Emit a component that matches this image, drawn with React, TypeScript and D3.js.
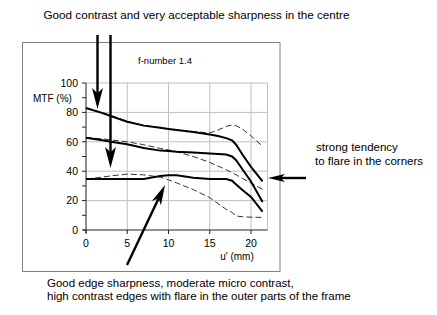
import React from "react";
import * as d3 from "d3";

// u' (mm) sample positions
const xs = [0, 2, 3, 5, 7, 9, 10, 11, 13, 15, 16, 17, 17.7, 18.2, 19, 20, 21.4];
// Solid curves (sagittal)
const solidHigh = [83, 79.5, 77.5, 73.6, 71, 69.5, 68.7, 68, 66.7, 65, 64, 62.5, 61, 58, 51, 43, 33];
const solidMid = [62.8, 61, 60, 58.3, 55.8, 54, 53.8, 53.3, 52.7, 52, 51.7, 51.3, 50, 47.5, 41, 33, 19];
const solidLow = [34.7, 34.7, 34.7, 34.7, 34.7, 36.8, 37.2, 37.2, 35.5, 34.7, 34.7, 34.7, 33.5, 31, 27, 22.5, 12.5];
// Dashed curves (tangential)
const dashHigh = [83, 80, 78, 74, 71.2, 69.6, 68.8, 68.2, 67, 66, 68, 70.5, 71.4, 71, 68.5, 64, 57];
const dashMid = [62.8, 62, 61.3, 60, 58, 55.5, 54.5, 53.2, 50, 46, 43.5, 41, 39, 37.5, 35, 32, 27.7];
const dashLow = [34.7, 36, 36.8, 38, 37.5, 36, 34.2, 32, 27.5, 22, 18, 14, 12, 9.5, 9, 8.7, 8.6];

const xTicks = [0, 5, 10, 15, 20];
const yTicks = [0, 20, 40, 60, 80, 100];
const yMinor = [10, 30, 50, 70, 90];

const titleTop = "Good contrast and very acceptable sharpness in the centre";
const chartTitle = "f-number 1.4";
const yLabel = "MTF (%)";
const xLabel = "u' (mm)";
const rightNote = ["strong tendency", "to flare in the corners"];
const bottomNote = [
  "Good edge sharpness, moderate micro contrast,",
  "high contrast edges with flare in the outer parts of the frame",
];

const font = "'Liberation Sans', Arial, sans-serif";

function Arrow({ x1, y1, x2, y2, headLen = 21, headW = 5.5, sw = 2.4 }: any) {
  const dx = x2 - x1, dy = y2 - y1;
  const L = Math.hypot(dx, dy);
  const ux = dx / L, uy = dy / L;
  const px = -uy, py = ux;
  const bx = x2 - ux * headLen, by = y2 - uy * headLen;
  const nx = x2 - ux * headLen * 0.75, ny = y2 - uy * headLen * 0.75;
  const pts = [
    [x2, y2],
    [bx + px * headW, by + py * headW],
    [nx, ny],
    [bx - px * headW, by - py * headW],
  ];
  return (
    <g>
      <line x1={x1} y1={y1} x2={nx} y2={ny} stroke="#000" strokeWidth={sw} />
      <polygon points={pts.map((p) => p.join(",")).join(" ")} fill="#000" />
    </g>
  );
}

export default function App() {
  const x = d3.scaleLinear().domain([0, 22]).range([86, 267.5]);
  const y = d3.scaleLinear().domain([0, 100]).range([230, 83]);
  const line = (vals: number[]) =>
    d3.line<number>().x((_, i) => x(xs[i])).y((v) => y(v))(vals) || "";

  return (
    <svg width={437} height={315} style={{ position: "absolute", left: 0, top: 0, background: "#fff" }} fontFamily={font}>
      <rect x={0} y={0} width={437} height={315} fill="#fff" />
      <text x={43.5} y={18.5} fontSize={11.7} fill="#000">{titleTop}</text>
      {/* frame */}
      <rect x={22.5} y={42.5} width={257.5} height={229} fill="none" stroke="#808080" strokeWidth={1} />
      <text x={165} y={63.5} fontSize={9.5} textAnchor="middle">{chartTitle}</text>
      {/* grid */}
      {[5, 10, 15, 20, 22].map((t) => (
        <line key={"gx" + t} x1={x(t)} x2={x(t)} y1={y(0)} y2={y(100)} stroke="#c0c0c0" strokeWidth={1} />
      ))}
      {[20, 40, 60, 80, 100].map((t) => (
        <line key={"gy" + t} x1={x(0)} x2={x(22)} y1={y(t)} y2={y(t)} stroke="#c0c0c0" strokeWidth={1} />
      ))}
      {/* axes */}
      <line x1={x(0)} x2={x(0)} y1={y(0) + 3} y2={y(100)} stroke="#222" strokeWidth={1} />
      <line x1={x(0) - 3} x2={x(22)} y1={y(0)} y2={y(0)} stroke="#222" strokeWidth={1} />
      {yTicks.map((t) => (
        <g key={"yt" + t}>
          <line x1={x(0) - 4} x2={x(0)} y1={y(t)} y2={y(t)} stroke="#222" />
          <text x={78} y={y(t) + 3.7} fontSize={10.5} textAnchor="end">{t}</text>
        </g>
      ))}
      {yMinor.map((t) => (
        <line key={"ym" + t} x1={x(0) - 4} x2={x(0)} y1={y(t)} y2={y(t)} stroke="#222" />
      ))}
      {xTicks.map((t) => (
        <g key={"xt" + t}>
          <line x1={x(t)} x2={x(t)} y1={y(0)} y2={y(0) + 4} stroke="#222" />
          <text x={x(t)} y={247} fontSize={10.5} textAnchor="middle">{t}</text>
        </g>
      ))}
      <text x={33} y={102} fontSize={10}>{yLabel}</text>
      <text x={237} y={259.5} fontSize={10} textAnchor="middle">{xLabel}</text>
      {/* curves */}
      {[dashHigh, dashMid, dashLow].map((d, i) => (
        <path key={"d" + i} d={line(d)} fill="none" stroke="#333" strokeWidth={1} strokeDasharray="6,3" />
      ))}
      {[solidHigh, solidMid, solidLow].map((d, i) => (
        <path key={"s" + i} d={line(d)} fill="none" stroke="#000" strokeWidth={2} />
      ))}
      {/* arrows */}
      <Arrow x1={97.5} y1={35} x2={97.5} y2={109} />
      <Arrow x1={110.5} y1={35} x2={110.5} y2={168} />
      <Arrow x1={306} y1={178} x2={268} y2={178} headLen={17} headW={4} sw={2.4} />
      <Arrow x1={127} y1={265} x2={165} y2={185} headLen={20} headW={5} sw={2.4} />
      {/* notes */}
      {rightNote.map((t, i) => (
        <text key={"r" + i} x={i === 0 ? 316 : 315} y={150.8 + i * 14.3} fontSize={11.5}>{t}</text>
      ))}
      {bottomNote.map((t, i) => (
        <text key={"b" + i} x={47} y={287 + i * 12.5} fontSize={11.5}>{t}</text>
      ))}
    </svg>
  );
}
